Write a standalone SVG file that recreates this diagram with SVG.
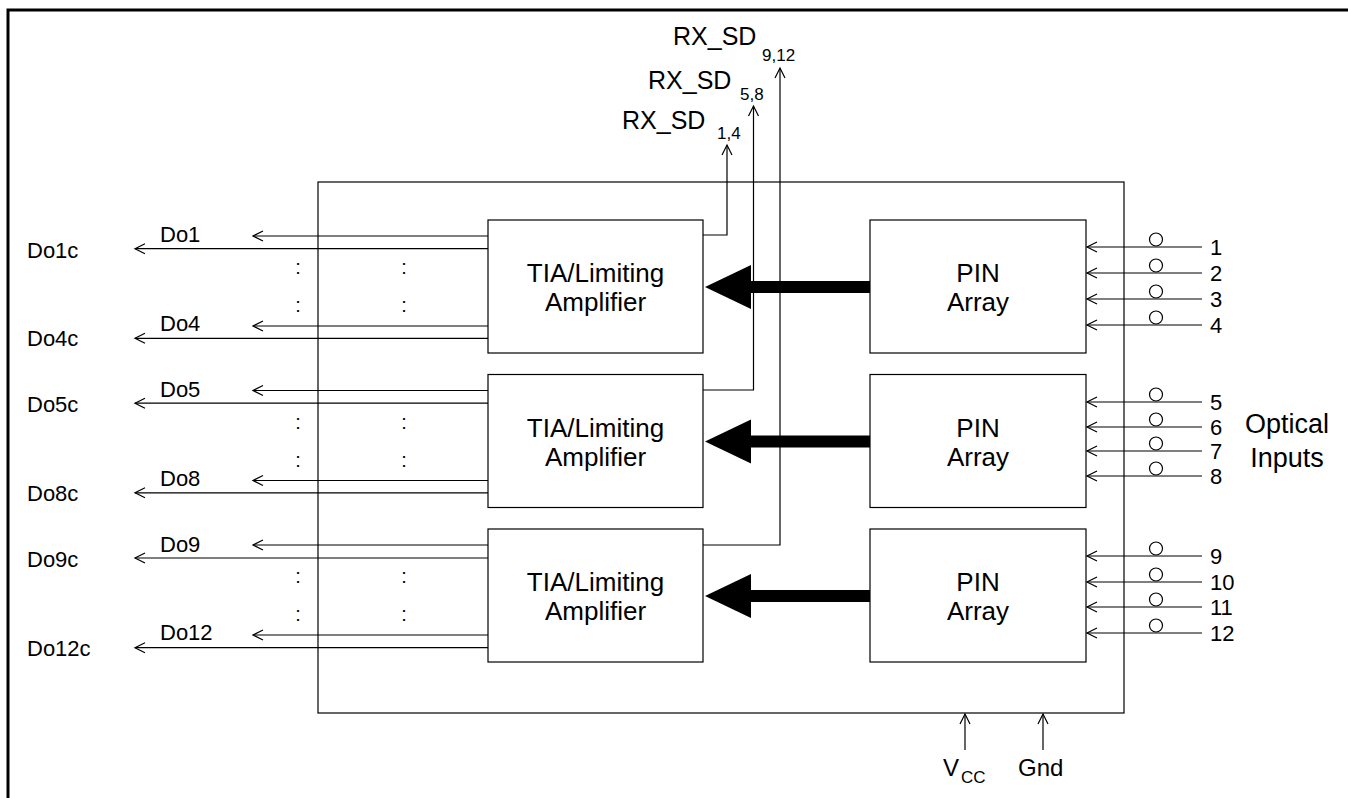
<svg xmlns="http://www.w3.org/2000/svg" width="1348" height="798" viewBox="0 0 1348 798">
<defs>
<marker id="ah" markerUnits="userSpaceOnUse" markerWidth="14" markerHeight="14" refX="11" refY="6" orient="auto" overflow="visible">
<path d="M1,1 L11,6 L1,11" fill="none" stroke="#000" stroke-width="1.2"/>
</marker>
</defs>
<style>
text{font-family:"Liberation Sans",Arial,sans-serif;fill:#000}
.box{fill:#fff;stroke:#000;stroke-width:1.2}
.ln{fill:none;stroke:#000;stroke-width:1.2}
.ar{fill:none;stroke:#000;stroke-width:1.2;marker-end:url(#ah)}
.lbl{font-size:22px}
.big{font-size:26px;text-anchor:middle}
.sub{font-size:17px}
.col{font-size:20px;text-anchor:middle}
.thick{fill:#000}
.circ{fill:#fff;stroke:#000;stroke-width:1.2}
</style>
<rect width="1348" height="798" fill="#fff"/>
<path d="M8,798 L8,10 L1348,10" fill="none" stroke="#000" stroke-width="3"/>

<g id="module"><rect class="box" x="318" y="182" width="806" height="531"/></g>

<g id="tia1"><rect class="box" x="488" y="220" width="215" height="133"/>
<text class="big" x="595.5" y="282">TIA/Limiting</text><text class="big" x="595.5" y="311">Amplifier</text></g>
<g id="tia2"><rect class="box" x="488" y="374.5" width="215" height="133"/>
<text class="big" x="595.5" y="436.5">TIA/Limiting</text><text class="big" x="595.5" y="465.5">Amplifier</text></g>
<g id="tia3"><rect class="box" x="488" y="529" width="215" height="133"/>
<text class="big" x="595.5" y="591">TIA/Limiting</text><text class="big" x="595.5" y="620">Amplifier</text></g>

<g id="pin1"><rect class="box" x="870" y="220" width="216" height="133"/>
<text class="big" x="978" y="282">PIN</text><text class="big" x="978" y="311">Array</text></g>
<g id="pin2"><rect class="box" x="870" y="374.5" width="216" height="133"/>
<text class="big" x="978" y="436.5">PIN</text><text class="big" x="978" y="465.5">Array</text></g>
<g id="pin3"><rect class="box" x="870" y="529" width="216" height="133"/>
<text class="big" x="978" y="591">PIN</text><text class="big" x="978" y="620">Array</text></g>

<g id="connectors">
<path class="thick" d="M870,281 L751,281 L751,265 L705,287 L751,309 L751,293 L870,293 Z"/>
<path class="thick" d="M870,435.5 L751,435.5 L751,419.5 L705,441.5 L751,463.5 L751,447.5 L870,447.5 Z"/>
<path class="thick" d="M870,590 L751,590 L751,574 L705,596 L751,618 L751,602 L870,602 Z"/>

<line class="ar" x1="488" y1="236" x2="253" y2="236"/>
<line class="ar" x1="488" y1="248.7" x2="135" y2="248.7"/>
<line class="ar" x1="488" y1="326" x2="253" y2="326"/>
<line class="ar" x1="488" y1="338.3" x2="135" y2="338.3"/>
<line class="ar" x1="488" y1="390.5" x2="253" y2="390.5"/>
<line class="ar" x1="488" y1="403.2" x2="135" y2="403.2"/>
<line class="ar" x1="488" y1="480.5" x2="253" y2="480.5"/>
<line class="ar" x1="488" y1="492.8" x2="135" y2="492.8"/>
<line class="ar" x1="488" y1="545" x2="253" y2="545"/>
<line class="ar" x1="488" y1="558" x2="135" y2="558"/>
<line class="ar" x1="488" y1="635" x2="253" y2="635"/>
<line class="ar" x1="488" y1="647.7" x2="135" y2="647.7"/>

<path class="ar" d="M703,235 L727,235 L727,145"/>
<path class="ar" d="M703,390 L753.5,390 L753.5,106"/>
<path class="ar" d="M703,545 L780,545 L780,68"/>

<line class="ar" x1="1202" y1="247" x2="1087" y2="247"/>
<line class="ar" x1="1202" y1="273" x2="1087" y2="273"/>
<line class="ar" x1="1202" y1="299" x2="1087" y2="299"/>
<line class="ar" x1="1202" y1="325" x2="1087" y2="325"/>
<line class="ar" x1="1202" y1="402" x2="1087" y2="402"/>
<line class="ar" x1="1202" y1="427" x2="1087" y2="427"/>
<line class="ar" x1="1202" y1="451" x2="1087" y2="451"/>
<line class="ar" x1="1202" y1="476" x2="1087" y2="476"/>
<line class="ar" x1="1202" y1="556" x2="1087" y2="556"/>
<line class="ar" x1="1202" y1="582" x2="1087" y2="582"/>
<line class="ar" x1="1202" y1="607" x2="1087" y2="607"/>
<line class="ar" x1="1202" y1="633" x2="1087" y2="633"/>

<line class="ar" x1="965" y1="750" x2="965" y2="714"/>
<line class="ar" x1="1043" y1="750" x2="1043" y2="714"/>
</g>

<g id="fibers">
<circle class="circ" cx="1156" cy="239.5" r="6.5"/>
<circle class="circ" cx="1156" cy="265.5" r="6.5"/>
<circle class="circ" cx="1156" cy="291.5" r="6.5"/>
<circle class="circ" cx="1156" cy="317.5" r="6.5"/>
<circle class="circ" cx="1156" cy="394.5" r="6.5"/>
<circle class="circ" cx="1156" cy="419.5" r="6.5"/>
<circle class="circ" cx="1156" cy="443.5" r="6.5"/>
<circle class="circ" cx="1156" cy="468.5" r="6.5"/>
<circle class="circ" cx="1156" cy="548.5" r="6.5"/>
<circle class="circ" cx="1156" cy="574.5" r="6.5"/>
<circle class="circ" cx="1156" cy="599.5" r="6.5"/>
<circle class="circ" cx="1156" cy="625.5" r="6.5"/>
</g>

<g id="labels">
<text class="lbl" x="160" y="242">Do1</text>
<text class="lbl" x="27" y="258">Do1c</text>
<text class="lbl" x="160" y="331">Do4</text>
<text class="lbl" x="27" y="346">Do4c</text>
<text class="lbl" x="160" y="396.5">Do5</text>
<text class="lbl" x="27" y="412">Do5c</text>
<text class="lbl" x="160" y="485.5">Do8</text>
<text class="lbl" x="27" y="501">Do8c</text>
<text class="lbl" x="160" y="551.5">Do9</text>
<text class="lbl" x="27" y="567">Do9c</text>
<text class="lbl" x="160" y="640">Do12</text>
<text class="lbl" x="27" y="656">Do12c</text>

<text class="col" x="298" y="274">:</text><text class="col" x="404" y="274">:</text>
<text class="col" x="298" y="312">:</text><text class="col" x="404" y="312">:</text>
<text class="col" x="298" y="428.5">:</text><text class="col" x="404" y="428.5">:</text>
<text class="col" x="298" y="466.5">:</text><text class="col" x="404" y="466.5">:</text>
<text class="col" x="298" y="583">:</text><text class="col" x="404" y="583">:</text>
<text class="col" x="298" y="621">:</text><text class="col" x="404" y="621">:</text>

<text font-size="25" x="673" y="45">RX_SD</text><text class="sub" x="762" y="61">9,12</text>
<text font-size="25" x="648" y="89">RX_SD</text><text class="sub" x="740" y="100">5,8</text>
<text font-size="25" x="622" y="129">RX_SD</text><text class="sub" x="717" y="139">1,4</text>

<text class="lbl" x="1210" y="255">1</text>
<text class="lbl" x="1210" y="281">2</text>
<text class="lbl" x="1210" y="307">3</text>
<text class="lbl" x="1210" y="333">4</text>
<text class="lbl" x="1210" y="410">5</text>
<text class="lbl" x="1210" y="435">6</text>
<text class="lbl" x="1210" y="459">7</text>
<text class="lbl" x="1210" y="484">8</text>
<text class="lbl" x="1210" y="564">9</text>
<text class="lbl" x="1210" y="590">10</text>
<text class="lbl" x="1210" y="615">11</text>
<text class="lbl" x="1210" y="641">12</text>

<text font-size="27" x="1287" y="433" text-anchor="middle">Optical</text>
<text font-size="27" x="1287" y="467" text-anchor="middle">Inputs</text>

<text font-size="24" x="943" y="776">V</text><text class="sub" x="961" y="783">CC</text>
<text font-size="24" x="1018" y="776">Gnd</text>
</g>
</svg>
